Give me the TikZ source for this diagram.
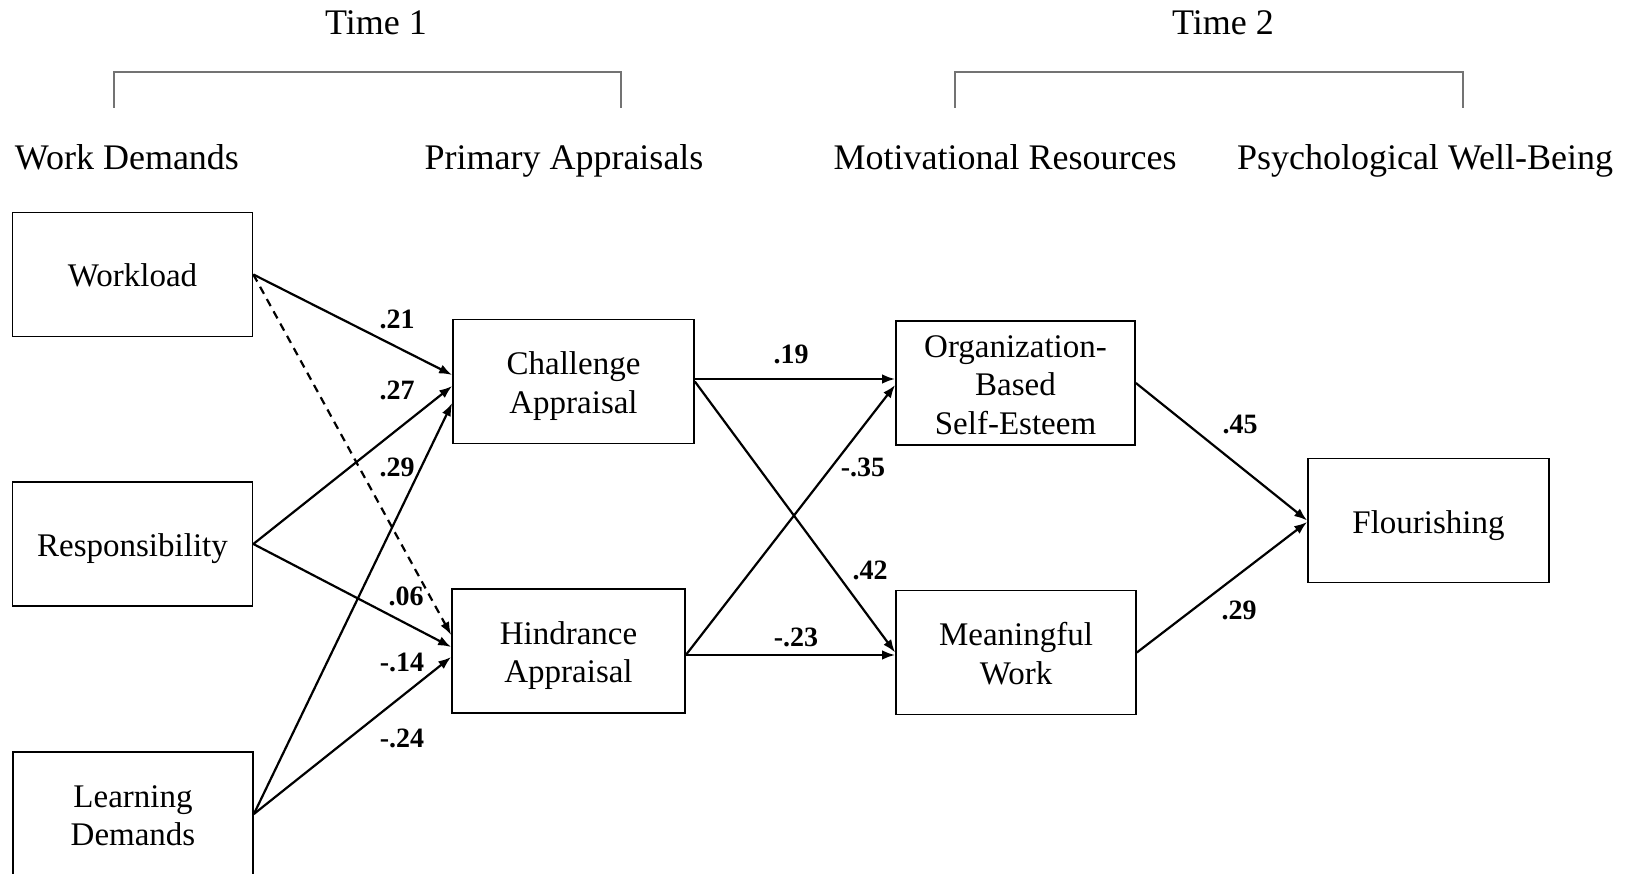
\documentclass[tikz,border=0pt]{standalone}
\usepackage{fontspec}
\setmainfont{Liberation Serif}
\usetikzlibrary{arrows.meta,calc}

% struts that even out the first and last line of every box
\newcommand{\tstr}{\rule{0pt}{33pt}}
\newcommand{\bstr}{\rule[-8pt]{0pt}{8pt}}

\tikzset{
  box/.style={draw, line width=1.7pt, minimum width=240pt, minimum height=124pt, inner sep=0pt, align=center,
    font=\fontsize{33}{38.5}\selectfont},
  head/.style={anchor=base, font=\fontsize{36}{40}\selectfont},
  path/.style={line width=2.2pt, -{Latex[length=13pt,width=9.5pt]}},
  coef/.style={font=\fontsize{28}{32}\selectfont\bfseries},
  bracket/.style={black!55, line width=1.3pt}
}

\begin{document}
\begin{tikzpicture}[x=1pt,y=-1pt]
        \clip (0,0) rectangle (1629,874);
        \fill[white] (0,0) rectangle (1629,874);

        % time brackets
        \node[head] (time1) at (376,35) {Time 1};
        \node[head] (time2) at (1223,35) {Time 2};
        \draw[bracket] (114,108) |- (621,72) -- (621,108);
        \draw[bracket] (955,108) |- (1463,72) -- (1463,108);

        \foreach \x/\name/\txt in {127/work/Work Demands, 564/prim/Primary Appraisals, 1005/moti/Motivational Resources, 1425/well/Psychological Well-Being} {
            \node[head] (\name) at (\x,170) {\txt};
        }

        \node[box] (workload) at (132.5,274.5) {\tstr Workload\bstr};
        \node[box] (resp) at (132.5,544) {\tstr Responsibility\bstr};
        \node[box] (learn) at (133,814) {\tstr Learning\\Demands\bstr};
        \node[box, minimum width=241pt] (chal) at (573.5,381.5) {\tstr Challenge\\Appraisal\bstr};
        \node[box, minimum width=233pt] (hind) at (568.5,651) {\tstr Hindrance\\Appraisal\bstr};
        \node[box, minimum width=239pt] (obse) at (1015.5,383) {\tstr Organization-\\Based\\Self-Esteem\bstr};
        \node[box] (mean) at (1016,652.5) {\tstr Meaningful\\Work\bstr};
        \node[box, minimum width=241pt] (flour) at (1428.5,520.5) {\tstr Flourishing\bstr};

        % demands -> appraisals
        \draw[path] (workload.east) -- ([yshift=6.5pt]chal.west);
        \draw[path] (resp.east) -- ([yshift=-4.5pt]chal.west);
        \draw[path] (learn.east) -- ([yshift=-21.5pt]chal.west);
        \draw[path, dash pattern=on 8pt off 6pt] (workload.east) -- ([yshift=16pt]hind.west);
        \draw[path] (resp.east) -- ([yshift=4pt]hind.west);
        \draw[path] (learn.east) -- ([yshift=-6pt]hind.west);

        % appraisals -> resources
        \draw[path] ([yshift=2.5pt]chal.east) -- ([yshift=4pt]obse.west);
        \draw[path] (chal.east) -- (mean.west);
        \draw[path] ([yshift=-4pt]hind.east) -- ([yshift=-2.5pt]mean.west);
        \draw[path] ([yshift=-4pt]hind.east) -- ([yshift=-2pt]obse.west);

        % resources -> well-being
        \draw[path] (obse.east) -- (flour.west);
        \draw[path] (mean.east) -- ([yshift=-1.5pt]flour.west);

        \foreach \x/\y/\name/\val in {397/319/c1/.21, 397/390/c2/.27, 397/467/c3/.29, 406/596/c4/.06, 402/662/c5/-.14, 402/738/c6/-.24, 791/354/c7/.19, 863/467/c8/-.35, 870/570/c9/.42, 796/637/c10/-.23, 1240/424/c11/.45, 1239/610/c12/.29} {
            \node[coef] (\name) at (\x,\y) {\val};
        }
\end{tikzpicture}
\end{document}
